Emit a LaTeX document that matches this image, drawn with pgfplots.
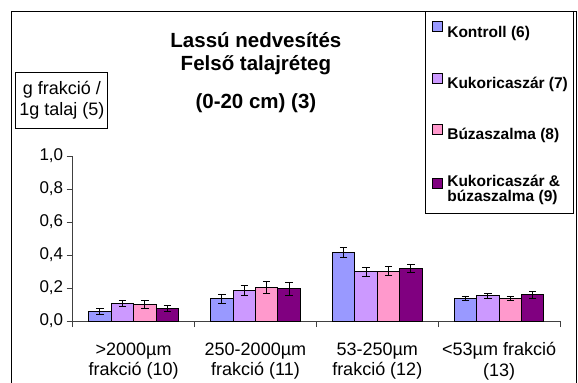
\documentclass[border=0pt]{standalone}
\usepackage{fontspec}
\setmainfont{Liberation Sans}
\usepackage{pgfplots}
\pgfplotsset{compat=1.18}
\definecolor{kon}{HTML}{9999FF}
\definecolor{kuk}{HTML}{CC99FF}
\definecolor{buz}{HTML}{FF99CC}
\definecolor{kb}{HTML}{800080}
\begin{document}
\begin{tikzpicture}
\useasboundingbox (0bp,0bp) rectangle (578bp,-383bp);
\clip (0bp,0bp) rectangle (578bp,-383bp);
\draw[line width=1bp] (11.5bp,-11bp) rectangle (576.5bp,-400bp);
\begin{axis}[
  at={(72.7bp,-321bp)}, anchor=south west,
  scale only axis, width=487.3bp, height=165bp,
  xmin=-0.5, xmax=3.5, ymin=0, ymax=1,
  axis x line*=bottom, axis y line*=left,
  axis line style={black!75, line width=1bp},
  tick align=outside,
  major tick length=6bp,
  tick style={black!75, line width=1bp},
  ybar=0pt, bar width=0.184,
  xtick={-0.5,0.5,1.5,2.5,3.5},
  xticklabels={,,,,},
  extra x ticks={0,1,2,3},
  extra x tick labels={{>2000µm\\frakció (10)},{250-2000µm\\frakció (11)},{53-250µm\\frakció (12)},{<53µm frakció\\(13)}},
  extra x tick style={major tick length=0pt},
  xticklabel style={align=center, yshift=-18bp, font=\fontsize{18bp}{20.5bp}\selectfont},
  ytick={0,0.2,0.4,0.6,0.8,1},
  yticklabel style={font=\fontsize{17bp}{20bp}\selectfont, /pgf/number format/.cd, fixed, fixed zerofill, precision=1, use comma, assume math mode=true},
  ylabel={g frakció /\\1g talaj (5)},
  ylabel style={rotate=-90, at={(axis description cs:-0.022,1.339)}, anchor=center, draw=black, line width=1bp, align=center, minimum width=92bp, minimum height=56bp, inner sep=0pt, font=\fontsize{18bp}{21bp}\selectfont},
  title={Lassú nedvesítés\\Felső talajréteg\\[15bp](0-20 cm) (3)},
  title style={at={(axis description cs:0.376,1.715)}, anchor=north, align=center, inner sep=0pt, font=\bfseries\fontsize{20.5bp}{23bp}\selectfont},
  legend style={at={(axis description cs:0.723,1.879)}, anchor=north west, draw=black, line width=1bp,
    font=\bfseries\fontsize{15.5bp}{15bp}\selectfont, row sep=34bp, inner xsep=6bp, inner ysep=10bp,
    nodes={inner sep=0pt, align=left},
    /tikz/every odd column/.append style={column sep=5bp}},
  legend cell align=left,
  legend image code/.code={\draw[#1,/tikz/.cd,line width=0.8bp,draw=black] (0bp,0.5bp) rectangle (10bp,10.5bp);},
  error bars/y dir=both, error bars/y explicit,
  error bars/error bar style={line width=1bp, black},
  error bars/error mark options={rotate=90, mark size=3.7bp, line width=1bp, black},
]
\addplot[fill=kon, draw=black, line width=1bp] coordinates {(0,0.057) +- (0,0.019) (1,0.135) +- (0,0.027) (2,0.414) +- (0,0.032) (3,0.135) +- (0,0.013)};
\addlegendentry{Kontroll (6)}
\addplot[fill=kuk, draw=black, line width=1bp] coordinates {(0,0.105) +- (0,0.019) (1,0.184) +- (0,0.032) (2,0.297) +- (0,0.030) (3,0.152) +- (0,0.016)};
\addlegendentry{Kukoricaszár (7)}
\addplot[fill=buz, draw=black, line width=1bp] coordinates {(0,0.099) +- (0,0.025) (1,0.202) +- (0,0.036) (2,0.303) +- (0,0.030) (3,0.135) +- (0,0.013)};
\addlegendentry{Búzaszalma (8)}
\addplot[fill=kb, draw=black, line width=1bp] coordinates {(0,0.075) +- (0,0.018) (1,0.196) +- (0,0.039) (2,0.317) +- (0,0.023) (3,0.158) +- (0,0.019)};
\addlegendentry{Kukoricaszár \&\\búzaszalma (9)\rule[-7bp]{0pt}{7bp}}
\end{axis}
\end{tikzpicture}
\end{document}
